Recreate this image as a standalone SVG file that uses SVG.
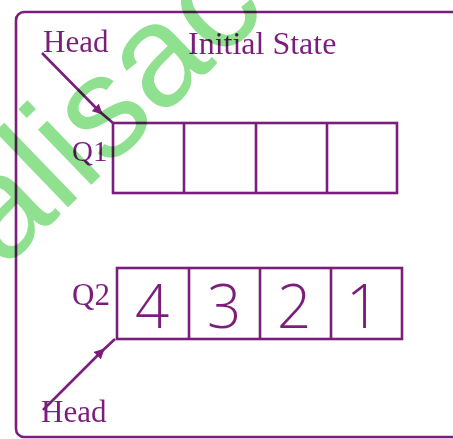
<svg xmlns="http://www.w3.org/2000/svg" width="453" height="439" viewBox="0 0 453 439">
<style>
.ln{fill:none;stroke:#7b1e7b;stroke-width:2.6}
.lbl{font-family:"Liberation Serif","Times New Roman",serif;fill:#7b1e7b}
.dg{font-family:"Open Sans","Lato","DejaVu Sans",sans-serif;font-weight:300;fill:#7b1e7b;font-size:60px;text-anchor:middle}
.wm{font-family:"Liberation Sans",Arial,sans-serif;font-size:145px;fill:#8fe08f;mix-blend-mode:multiply}
</style>
<defs>
<marker id="ah" viewBox="0 0 10 10" refX="5" refY="5" markerWidth="4" markerHeight="4" orient="auto" markerUnits="strokeWidth">
<path d="M0,0 L10,5 L0,10 z" fill="#7b1e7b"/>
</marker>
</defs>
<rect width="453" height="439" fill="#ffffff"/>
<g id="frame">
<rect class="ln" x="16" y="12" width="470" height="425" rx="8"/>
</g>
<g id="title">
<text class="lbl" x="188" y="54" font-size="32">Initial State</text>
</g>
<g id="head1">
<text class="lbl" x="43" y="52" font-size="31">Head</text>
</g>
<g id="q1">
<text class="lbl" x="72" y="161" font-size="29">Q1</text>
<rect class="ln" x="113" y="123" width="284" height="70"/>
<line class="ln" x1="184" y1="123" x2="184" y2="193"/>
<line class="ln" x1="256" y1="123" x2="256" y2="193"/>
<line class="ln" x1="327" y1="123" x2="327" y2="193"/>
</g>
<g id="q2">
<text class="lbl" x="72" y="305" font-size="31">Q2</text>
<rect class="ln" x="117" y="268" width="285" height="71"/>
<line class="ln" x1="189" y1="268" x2="189" y2="339"/>
<line class="ln" x1="260" y1="268" x2="260" y2="339"/>
<line class="ln" x1="331" y1="268" x2="331" y2="339"/>
<text class="dg" x="152" y="328">4</text>
<text class="dg" x="224" y="328">3</text>
<text class="dg" x="294" y="328">2</text>
<text class="dg" x="363" y="328">1</text>
</g>
<g id="head2">
<text class="lbl" x="41" y="422" font-size="31">Head</text>
</g>
<g id="connectors">
<polyline class="ln" points="42,53 99,111 113,123" marker-mid="url(#ah)"/>
<polyline class="ln" points="43,410 101,352 115,339" marker-mid="url(#ah)"/>
</g>
<g id="watermark">
<text class="wm" transform="translate(3,270) rotate(-44)">alisac</text>
</g>
</svg>
